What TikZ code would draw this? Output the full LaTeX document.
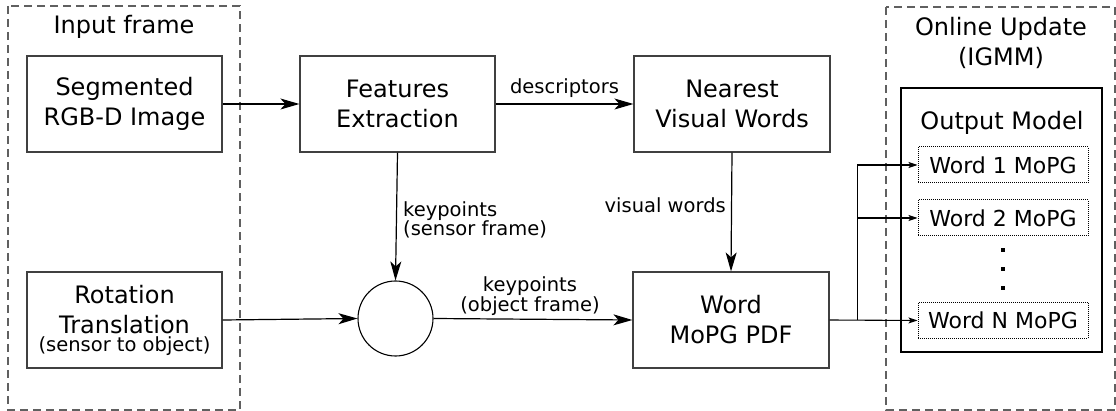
\documentclass[tikz,border=0pt]{standalone}
\usepackage{fontspec}
\setmainfont{DejaVu Sans}
\usetikzlibrary{arrows.meta}
\definecolor{boxgray}{HTML}{404040}
\definecolor{dashgray}{HTML}{606060}
\begin{document}
\begin{tikzpicture}[x=1pt,y=-1pt,
  mainfont/.style={font=\fontsize{24}{30}\selectfont},
  lblfont/.style={font=\fontsize{19.5}{14}\selectfont},
  blockbox/.style={draw=boxgray,line width=1.2pt,minimum width=195pt,minimum height=96pt,inner sep=0pt,align=center,mainfont},
  wordbox/.style={draw,densely dotted,line width=1pt,minimum width=170pt,minimum height=36pt,inner sep=0pt,font=\fontsize{22}{26}\selectfont},
  frame/.style={draw=dashgray,dash pattern=on 8pt off 5pt,line width=1.2pt},
  bigarrow/.style={draw,line width=1.2pt,-{Stealth[length=19pt,width=11pt,inset=5pt]}},
  smallarrow/.style={draw,line width=1.1pt,-{Stealth[length=9pt,width=6pt,inset=2pt]}},
  labeltext/.style={lblfont,inner sep=0pt,align=center}
]
\useasboundingbox (0,0) rectangle (1116,411);

% dashed frames
\draw[frame] (8,6) rectangle (240,410);
\draw[frame] (886,7) rectangle (1115,410);
\node[mainfont,inner sep=0pt,anchor=north] (inputtitle) at (124,15.5) {Input frame};
\node[mainfont,inner sep=0pt,anchor=north,align=center] (onlinetitle) at (1001,17) {Online Update\\(IGMM)};

% blocks
\node[blockbox] (seg) at (124.5,104) {Segmented\\RGB-D Image};
\node[blockbox] (rot) at (124.5,320) {Rotation\\Translation\\[-12pt]{\fontsize{19.5}{19}\selectfont (sensor to object)}};
\node[blockbox] (feat) at (397.5,104) {Features\\Extraction};
\node[blockbox,minimum width=196pt] (near) at (732,104) {Nearest\\Visual Words};
\node[blockbox,minimum width=196pt] (pdf) at (731,320) {Word\\MoPG PDF};
\node[draw,circle,line width=1.1pt,minimum size=75pt,inner sep=0pt] (comb) at (395.5,318.5) {};

% output model
\draw[line width=2pt] (901,88) rectangle (1102,352);
\node[font=\fontsize{24}{28}\selectfont,inner sep=0pt,anchor=base] (outtitle) at (1002,130) {Output Model};
\node[wordbox] (w1) at (1003,165) {Word 1 MoPG};
\node[wordbox] (w2) at (1003,218) {Word 2 MoPG};
\node[wordbox] (wn) at (1003,320.5) {Word N MoPG};
\foreach \yy in {250,269,288} \fill (1001,\yy-2) rectangle (1005,\yy+2);

% connectors
\draw[bigarrow] (seg.east) -- (feat.west);
\draw[bigarrow] (feat.east) -- node[labeltext,anchor=south,yshift=6pt] (desc) {descriptors} (near.west);
\draw[bigarrow] (feat.south) -- (comb.north);
\node[labeltext,anchor=north west,align=left] (kpsensor) at (403,201) {keypoints\\(sensor frame)};
\draw[bigarrow] (near.south) -- (pdf.north);
\node[labeltext,anchor=base east] (vw) at (726,212.7) {visual words};
\draw[bigarrow] (rot.east) -- (comb.west);
\draw[bigarrow] (comb.east) -- (pdf.west);
\node[labeltext,anchor=south] (kpobj) at (530,316) {keypoints\\(object frame)};

\coordinate (split) at (857.5,320);
\draw[smallarrow] (pdf.east) -- (wn.west);
\draw[smallarrow] (split) |- (w1.west);
\draw[smallarrow] (split) |- (w2.west);
\end{tikzpicture}
\end{document}
